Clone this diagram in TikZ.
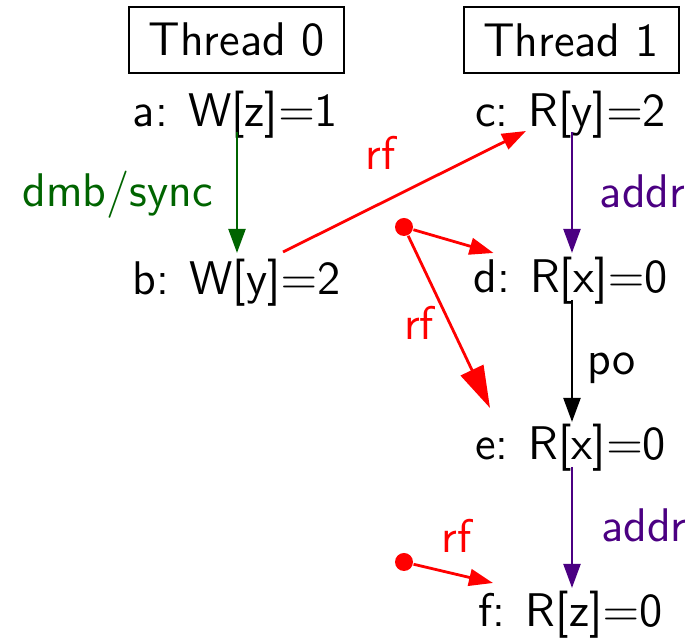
\documentclass[tikz,border=0pt]{standalone}
\usetikzlibrary{arrows.meta,calc}
\definecolor{syncgreen}{RGB}{0,100,0}
\definecolor{addrpurple}{RGB}{75,0,130}
\definecolor{rfred}{RGB}{255,0,0}
\begin{document}
\begin{tikzpicture}[x=0.25pt,y=-0.25pt,
  every node/.style={font=\fontsize{11.8}{14}\selectfont\sffamily},
  ev/.style={inner sep=0pt, anchor=base},
  thr/.style={draw, line width=0.5pt, minimum width=53.75pt, minimum height=16.5pt, inner sep=0pt},
  lab/.style={anchor=base, inner sep=0pt},
  rel/.style={line width=0.7pt, -{Triangle[length=6pt,width=4.2pt]}},
  rfedge/.style={rel, rfred},
  bigtip/.style={-{Triangle[length=10.5pt,width=6.2pt]}},
  srcdot/.style={circle, fill=rfred, inner sep=0pt, minimum size=4.5pt}]
\useasboundingbox (0,0) rectangle (698,640);

% thread headers
\node[thr] (t0) at (236.5,40) {Thread 0};
\node[thr] (t1) at (571,40) {Thread 1};

% events
\newcommand{\evsep}{\hspace{0.43em}}
\node[ev] (a) at (235.5,127) {a:\evsep W[z]$=$1};
\node[ev] (b) at (236.5,295) {b:\evsep W[y]$=$2};
\node[ev] (c) at (570.5,127) {c:\evsep R[y]$=$2};
\node[ev] (d) at (570.5,293) {d:\evsep R[x]$=$0};
\node[ev] (e) at (570.5,460) {e:\evsep R[x]$=$0};
\node[ev] (f) at (570.5,627) {f:\evsep R[z]$=$0};

% initial-state sources
\node[srcdot] (i1) at (404,227) {};
\node[srcdot] (i2) at (404,562) {};

% program-order relations
\draw[rel, syncgreen] ($(a.base)+(1.5,5)$) -- ($(b.base)+(0.5,-42)$);
\draw[rel, addrpurple] ($(c.base)+(1.5,5)$) -- ($(d.base)+(1.5,-40)$);
\draw[rel, black] ($(d.base)+(1.5,7)$) -- ($(e.base)+(1.5,-38)$);
\draw[rel, addrpurple] ($(e.base)+(1.5,7)$) -- ($(f.base)+(1.5,-39)$);

% reads-from relations
\draw[rfedge] ($(b.base)+(46.5,-43)$) -- ($(c.base)+(-44.5,4)$);
\draw[rfedge] (i1) -- ($(d.base)+(-77,-40)$);
\draw[rfedge, bigtip] (i1) -- ($(e.base)+(-80.5,-52)$);
\draw[rfedge] (i2) -- ($(f.base)+(-77.5,-44)$);

% relation labels
\node[lab, text=syncgreen] (l1) at (117.5,207) {dmb/sync};
\node[lab, text=rfred] (l2) at (380.5,170) {rf};
\node[lab, text=addrpurple] (l3) at (642.5,208) {addr};
\node[lab, text=rfred] (l4) at (419,340) {rf};
\node[lab, text=black] (l5) at (611.5,375) {po};
\node[lab, text=addrpurple] (l6) at (644,542) {addr};
\node[lab, text=rfred] (l7) at (456.5,553) {rf};
\end{tikzpicture}
\end{document}
